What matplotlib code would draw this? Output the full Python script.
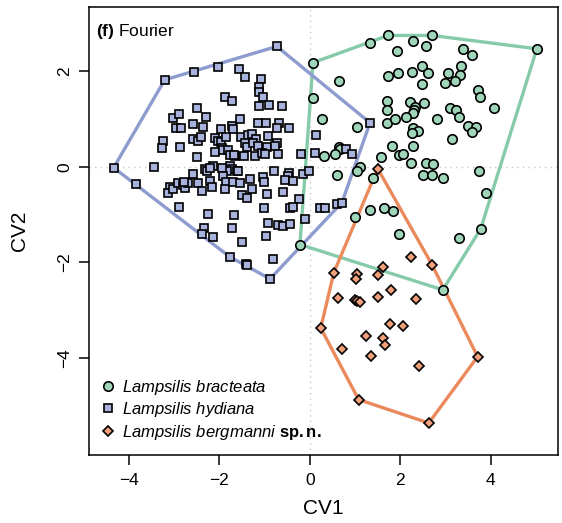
import numpy as np
import matplotlib.pyplot as plt
from matplotlib.lines import Line2D

plt.rcParams['font.family'] = ['Liberation Sans', 'DejaVu Sans']
plt.rcParams['mathtext.fontset'] = 'custom'
plt.rcParams['mathtext.rm'] = 'Liberation Sans'
plt.rcParams['mathtext.it'] = 'Liberation Sans:italic'
plt.rcParams['mathtext.bf'] = 'Liberation Sans:bold'

# CV scores, Lampsilis bracteata
bra_x = [0.07, 1.33, 1.73, 2.70, 5.02, 3.78, 3.30, 2.94, -0.22,
         0.64, 0.07, 0.27, 1.04, 1.92, 2.28, 2.57, 1.73, 1.95, 2.26, 2.48,
         2.61, 2.48, 1.70, 1.70, 2.21, 2.32, 2.30, 2.28, 2.52, 2.12,
         2.81, 1.70, 1.88, 2.28, 2.39, 2.26, 1.81, 2.28, 0.64, 0.66,
         3.38, 3.58, 3.05, 3.34, 3.32, 3.21, 2.99, 3.72, 3.76, 4.07,
         3.10, 3.23, 3.30, 3.50, 3.67, 3.58, 3.14,
         0.31, 0.55, 1.97, 2.06, 1.57, 2.23, 1.11, 1.04, 0.60, 1.39,
         2.57, 2.72, 2.50, 2.70, 2.94, 3.74, 3.89, 1.00, 1.33, 1.64,
         1.84, 1.97]
bra_y = [2.18, 2.60, 2.75, 2.75, 2.47, -1.30, -1.49, -2.58, -1.63,
         1.80, 1.43, 0.99, 0.84, 2.43, 2.64, 2.52, 1.91, 1.97, 1.99, 2.10,
         1.97, 1.74, 1.38, 1.19, 1.36, 1.26, 1.19, 1.13, 1.34, 1.05,
         0.99, 0.92, 0.99, 0.82, 0.75, 0.71, 0.44, 0.44, 0.42, 0.38,
         2.47, 2.35, 1.97, 2.12, 1.93, 1.80, 1.76, 1.61, 1.47, 1.22,
         1.22, 1.19, 1.05, 0.86, 0.84, 0.73, 0.57,
         0.23, 0.27, 0.25, 0.27, 0.21, 0.08, 0.00, -0.10, -0.17, -0.23,
         0.08, 0.06, -0.17, -0.17, -0.23, -0.08, -0.55, -1.05, -0.90, -0.86,
         -0.92, -1.40]

# CV scores, Lampsilis hydiana
hyd_x = [-4.34, -3.85, -3.21, -2.57, -2.04, -0.73, 1.33, 0.60, -0.88, -1.42, -1.77,
         -1.57, -1.44, -1.08, -1.13, -1.13, -1.04, -1.88, -1.73, -1.13, -0.91,
         -0.62, -2.50, -3.03, -2.90, -2.30,
         -2.96, -2.85, -2.59, -2.37, -1.73, -1.97, -1.55, -1.70, -1.15, -0.97,
         -0.69, -0.73, -0.46,
         -3.25, -3.27, -2.88, -2.59, -2.48, -2.41, -2.10, -2.04, -1.97, -1.86,
         -1.95, -2.10, -1.92, -1.81, -1.77, -1.66, -2.50,
         -1.53, -1.37, -1.28, -1.19, -0.93, -1.44, -1.39, -1.26, -1.15, -0.95,
         -0.73, -0.77,
         -1.68, -1.46, -1.22, -1.06, -0.99, -0.71, -0.20, 0.11, 0.13, 0.80, 0.93,
         -3.45, -2.15, -2.32, -2.28, -2.21, -1.77, -1.73, -1.84, -1.62, -2.59,
         -1.95,
         -1.59, -0.80, -0.46, -0.49, -0.15, -0.02, -1.33, -1.04, -1.02, -0.55,
         -0.38,
         -3.10, -3.14, -3.03, -2.92, -2.81, -2.77, -2.70, -2.79, -2.48, -2.39,
         -2.21, -2.17, -1.92, -1.86, -1.88, -1.70, -1.55,
         -1.28, -1.50, -0.95, -0.60, -0.24, -1.39,
         -2.90, -2.26, -1.68, -1.02, -0.44, -0.38, 0.22, 0.33, 0.71, -0.11,
         -0.93, -0.71, -0.60, -0.44, -2.35, -2.39, -2.15, -1.73, -0.97, -1.50,
         -0.82, -1.39]
hyd_y = [-0.02, -0.36, 1.82, 1.99, 2.08, 2.52, 0.92, -0.78, -2.35, -2.03, -1.89,
         2.05, 1.87, 1.84, 1.68, 1.57, 1.45, 1.47, 1.38, 1.28, 1.30,
         1.28, 1.24, 1.03, 1.11, 1.05,
         0.82, 0.82, 0.90, 0.84, 0.86, 0.78, 0.99, 0.78, 0.92, 0.92,
         0.92, 0.82, 0.82,
         0.54, 0.40, 0.42, 0.59, 0.54, 0.63, 0.61, 0.54, 0.52, 0.63,
         0.40, 0.31, 0.36, 0.34, 0.25, 0.23, 0.21,
         0.63, 0.67, 0.69, 0.59, 0.65, 0.50, 0.42, 0.50, 0.44, 0.42,
         0.50, 0.44,
         0.25, 0.23, 0.23, 0.29, 0.27, 0.27, 0.27, 0.29, 0.67, 0.38, 0.27,
         0.00, 0.02, -0.04, -0.10, -0.02, 0.02, -0.04, -0.10, -0.10, -0.15,
         -0.02,
         -0.08, -0.10, -0.13, -0.19, -0.15, -0.10, -0.25, -0.21, -0.31, -0.27,
         -0.29,
         -0.42, -0.55, -0.46, -0.34, -0.38, -0.44, -0.34, -0.31, -0.34, -0.50,
         -0.29, -0.42, -0.19, -0.31, -0.46, -0.31, -0.34,
         -0.46, -0.59, -0.57, -0.52, -0.67, -0.65,
         -0.84, -0.99, -1.01, -0.86, -0.86, -0.84, -0.86, -0.86, -0.75, -1.09,
         -1.17, -1.22, -1.24, -1.19, -1.28, -1.40, -1.47, -1.28, -1.45, -1.57,
         -1.93, -2.05]

# CV scores, Lampsilis bergmanni sp.n.
ber_x = [1.50, 2.70, 3.71, 2.63, 1.08, 0.24, 0.53,
         2.23, 1.62, 1.50, 1.04, 1.02, 1.79, 1.50, 0.62, 1.00, 1.04, 1.11,
         2.35, 1.77, 2.06, 1.24, 1.62, 1.66, 0.71, 1.35, 2.41]
ber_y = [-0.04, -2.05, -3.98, -5.37, -4.88, -3.38, -2.22,
         -1.89, -2.10, -2.26, -2.24, -2.35, -2.58, -2.72, -2.75, -2.79, -2.81, -2.83,
         -2.77, -3.29, -3.33, -3.54, -3.58, -3.73, -3.82, -3.96, -4.17]

groups = [
    ('Lampsilis bracteata', bra_x, bra_y, 'o', '#9fd6b9', '#86cba9', 6.8),
    ('Lampsilis hydiana', hyd_x, hyd_y, 's', '#a8b3dd', '#8d9bcf', 6.2),
    ('Lampsilis bergmanni sp.n.', ber_x, ber_y, 'D', '#f0a07a', '#ea8a5c', 5.6),
]
labels = [r'$\it{Lampsilis\ bracteata}$',
          r'$\it{Lampsilis\ hydiana}$',
          r'$\it{Lampsilis\ bergmanni}$ $\bf{sp.n.}$']


def hull(xs, ys):
    # Andrew's monotone chain
    pts = sorted(set(zip(xs, ys)))

    def cross(o, a, b):
        return (a[0] - o[0]) * (b[1] - o[1]) - (a[1] - o[1]) * (b[0] - o[0])
    lower, upper = [], []
    for p in pts:
        while len(lower) >= 2 and cross(lower[-2], lower[-1], p) <= 0:
            lower.pop()
        lower.append(p)
    for p in reversed(pts):
        while len(upper) >= 2 and cross(upper[-2], upper[-1], p) <= 0:
            upper.pop()
        upper.append(p)
    h = lower[:-1] + upper[:-1]
    h.append(h[0])
    return np.array(h)


fig = plt.figure(figsize=(5.62, 5.23), dpi=100)
ax = fig.add_axes([0.158, 0.130, 0.835, 0.857])

ax.axvline(0, color='#c8c8c8', lw=1.0, ls=(0, (1, 3)), zorder=0)
ax.axhline(0, color='#c8c8c8', lw=1.0, ls=(0, (1, 3)), zorder=0)

for name, xs, ys, mk, fc, lc, ms in groups:
    h = hull(xs, ys)
    ax.plot(h[:, 0], h[:, 1], color=lc, lw=2.4, zorder=1, solid_joinstyle='miter')
for name, xs, ys, mk, fc, lc, ms in groups:
    ax.plot(xs, ys, ls='none', marker=mk, ms=ms, mfc=fc, mec='black', mew=1.2, zorder=3)

handles = [Line2D([], [], ls='none', marker=g[3], ms=g[6], mfc=g[4], mec='black', mew=1.2)
           for g in groups]
ax.legend(handles, labels, loc='lower left', bbox_to_anchor=(-0.005, 0.003), frameon=False,
          fontsize=12, handletextpad=0.25, labelspacing=0.22, borderaxespad=0.3,
          handlelength=1.2)

ax.text(0.015, 0.965, r'$\bf{(f)}$ Fourier', transform=ax.transAxes, fontsize=12.5,
        va='top', ha='left')

ax.set_xlim(-4.89, 5.49)
ax.set_ylim(-6.04, 3.35)
ax.set_xticks([-4, -2, 0, 2, 4])
ax.set_yticks([-4, -2, 0, 2])
ax.set_xticklabels(['\u22124', '\u22122', '0', '2', '4'])
ax.set_yticklabels(['\u22124', '\u22122', '0', '2'], rotation=90, va='center')
ax.tick_params(direction='out', length=7, width=1.1, labelsize=12.5)
ax.tick_params(axis='x', pad=6)
ax.tick_params(axis='y', pad=5)
for s in ax.spines.values():
    s.set_linewidth(1.1)
ax.set_xlabel('CV1', fontsize=15, labelpad=8)
ax.set_ylabel('CV2', fontsize=15, labelpad=20)

fig.savefig('out.png', dpi=100)
